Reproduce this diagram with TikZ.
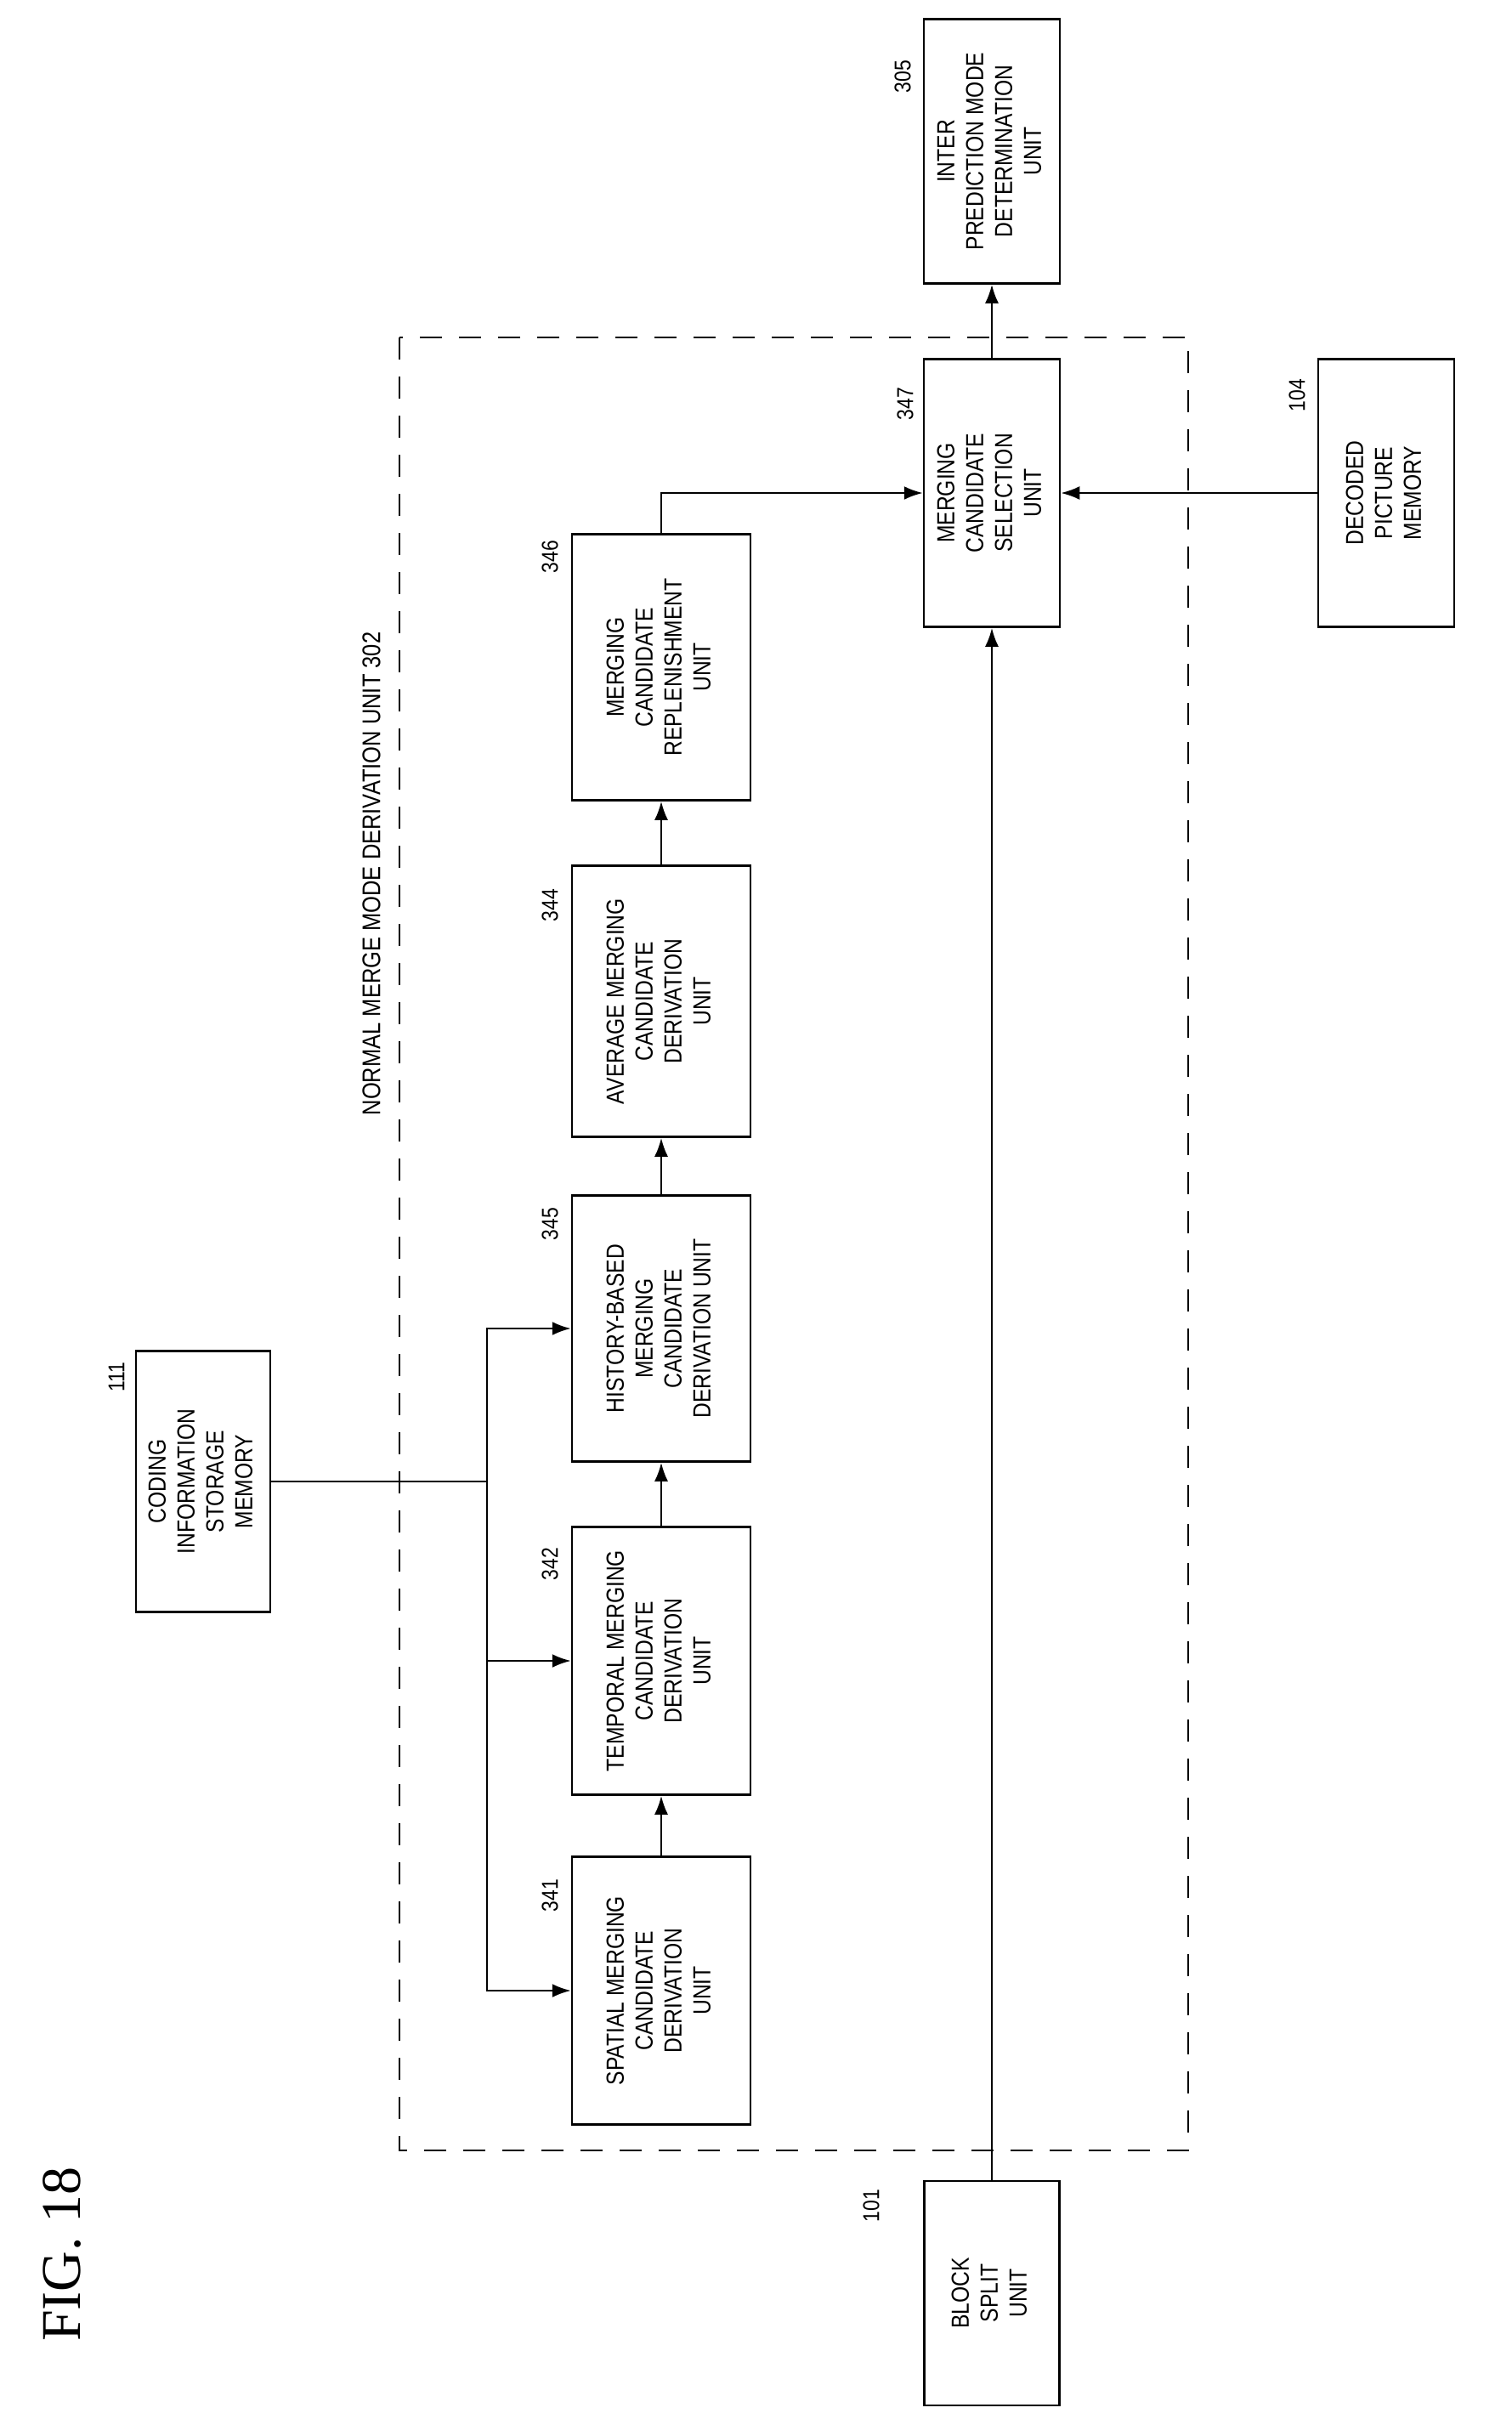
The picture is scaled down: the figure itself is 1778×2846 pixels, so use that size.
\documentclass[tikz,border=0pt]{standalone}
\usepackage{fontspec}
\setmainfont{Liberation Sans}
\newfontfamily\labf{Liberation Sans}[FakeStretch=0.85]
\newfontfamily\figf{Liberation Serif}
\usetikzlibrary{arrows.meta}
\newcommand{\rtxt}[1]{\rotatebox{90}{\begin{tabular}{@{}c@{}}#1\end{tabular}}}
\begin{document}
\begin{tikzpicture}[x=1pt,y=-1pt,
  box/.style={draw,line width=2.5pt,inner sep=0pt,font=\labf\fontsize{29}{34}\selectfont},
  num/.style={rotate=90,font=\labf\fontsize{27}{30}\selectfont,inner sep=0pt},
  conn/.style={line width=2.5pt},
  arr/.style={conn,-{Latex[length=22pt,width=16pt]}}]
\useasboundingbox (0,0) rectangle (1778,2846);
\fill[white] (0,0) rectangle (1778,2846);
% dashed frame
\draw[line width=2.5pt,dash pattern=on 26pt off 20pt] (470,397) rectangle (1398,2530);
\node[rotate=90,font=\labf\fontsize{30}{34}\selectfont] (title) at (437,1028) {NORMAL MERGE MODE DERIVATION UNIT 302};
% boxes
\node[box,minimum width=160pt,minimum height=311pt] (b305) at (1167,178) {\rtxt{INTER\\PREDICTION MODE\\DETERMINATION\\UNIT}};
\node[box,minimum width=160pt,minimum height=315pt] (b347) at (1167,580) {\rtxt{MERGING\\CANDIDATE\\SELECTION\\UNIT}};
\node[box,minimum width=160pt,minimum height=315pt] (b104) at (1631,580) {\rtxt{DECODED\\PICTURE\\MEMORY}};
\node[box,minimum width=210pt,minimum height=313pt] (b346) at (778,785) {\rtxt{MERGING\\CANDIDATE\\REPLENISHMENT\\UNIT}};
\node[box,minimum width=210pt,minimum height=319pt] (b344) at (778,1178) {\rtxt{AVERAGE MERGING\\CANDIDATE\\DERIVATION\\UNIT}};
\node[box,minimum width=210pt,minimum height=313pt] (b345) at (778,1563) {\rtxt{HISTORY-BASED\\MERGING\\CANDIDATE\\DERIVATION UNIT}};
\node[box,minimum width=210pt,minimum height=315pt] (b342) at (778,1954) {\rtxt{TEMPORAL MERGING\\CANDIDATE\\DERIVATION\\UNIT}};
\node[box,minimum width=210pt,minimum height=315pt] (b341) at (778,2342) {\rtxt{SPATIAL MERGING\\CANDIDATE\\DERIVATION\\UNIT}};
\node[box,minimum width=158pt,minimum height=307pt] (b111) at (239,1743) {\rtxt{CODING\\INFORMATION\\STORAGE\\MEMORY}};
\node[box,minimum width=159pt,minimum height=264pt] (b101) at (1167,2698) {\rtxt{BLOCK\\SPLIT\\UNIT}};
% numbers
\node[num] (n305) at (1062,90) {305};
\node[num] (n347) at (1065,475) {347};
\node[num] (n104) at (1526,465) {104};
\node[num] (n346) at (647,655) {346};
\node[num] (n344) at (647,1065) {344};
\node[num] (n345) at (647,1440) {345};
\node[num] (n342) at (647,1840) {342};
\node[num] (n341) at (647,2230) {341};
\node[num] (n111) at (137,1620) {111};
\node[num] (n101) at (1025,2595) {101};
\node[rotate=90,font=\figf\fontsize{66}{70}\selectfont,inner sep=0pt] (fig) at (73,2652) {FIG. 18};
% connectors
\coordinate (j1) at (573,1743);
\draw[conn] (b111.east) -- (j1);
\draw[arr] (j1) |- (b345.west);
\draw[arr] (j1) |- (b341.west);
\draw[arr] (j1 |- b342.west) -- (b342.west);
\draw[arr] (b341.north) -- (b342.south);
\draw[arr] (b342.north) -- (b345.south);
\draw[arr] (b345.north) -- (b344.south);
\draw[arr] (b344.north) -- (b346.south);
\draw[arr] (b346.north) |- (b347.west);
\draw[arr] (b104.west) -- (b347.east);
\draw[arr] (b101.north) -- (b347.south);
\draw[arr] (b347.north) -- (b305.south);
\end{tikzpicture}
\end{document}
